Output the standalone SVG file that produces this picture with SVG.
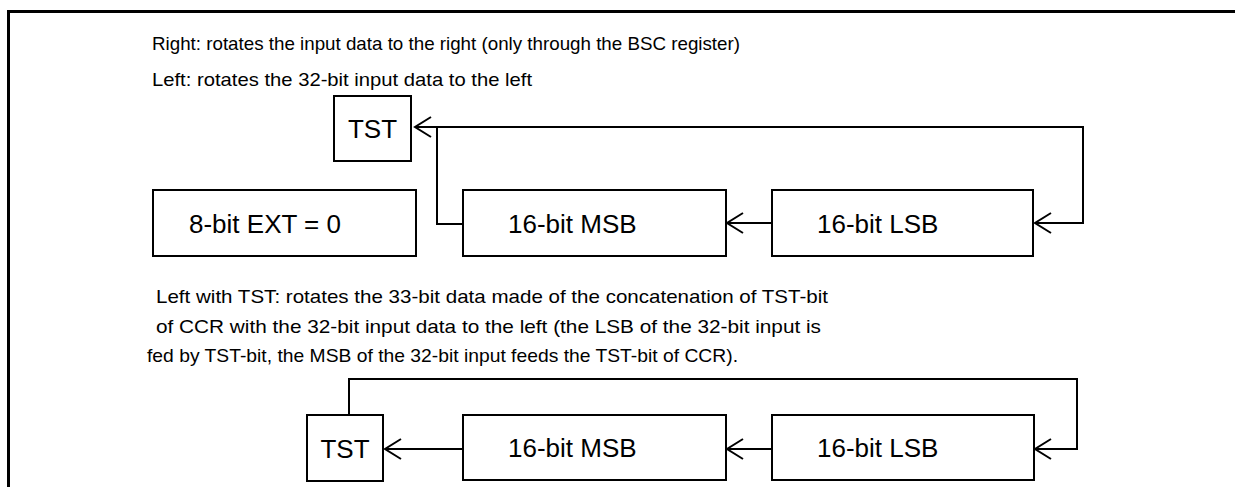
<svg xmlns="http://www.w3.org/2000/svg" width="1235" height="487" viewBox="0 0 1235 487">
<style>
.box{fill:#fff;stroke:#000;stroke-width:2}
.lbl{font-family:"Liberation Sans",Arial,sans-serif;font-size:26px;fill:#000}
.desc{font-family:"Liberation Sans",Arial,sans-serif;font-size:19px;fill:#000}
.wire{fill:none;stroke:#000;stroke-width:2}
</style>
<defs>
<marker id="arr" viewBox="-20 -12 24 24" markerWidth="24" markerHeight="24" refX="0" refY="0" orient="auto" markerUnits="userSpaceOnUse">
<path d="M-16,-10 L0,0 L-16,10" fill="none" stroke="#000" stroke-width="2"/>
</marker>
</defs>
<rect width="1235" height="487" fill="#fff"/>
<path d="M8.5,487 V11.5 H1235" fill="none" stroke="#000" stroke-width="3"/>
<g id="texts">
<text class="desc" x="152" y="50" textLength="588" lengthAdjust="spacingAndGlyphs">Right: rotates the input data to the right (only through the BSC register)</text>
<text class="desc" x="152" y="86" textLength="380" lengthAdjust="spacingAndGlyphs">Left: rotates the 32-bit input data to the left</text>
<text class="desc" x="156" y="303" textLength="672" lengthAdjust="spacingAndGlyphs">Left with TST: rotates the 33-bit data made of the concatenation of TST-bit</text>
<text class="desc" x="156" y="333" textLength="665" lengthAdjust="spacingAndGlyphs">of CCR with the 32-bit input data to the left (the LSB of the 32-bit input is</text>
<text class="desc" x="147" y="362" textLength="591" lengthAdjust="spacingAndGlyphs">fed by TST-bit, the MSB of the 32-bit input feeds the TST-bit of CCR).</text>
</g>
<g id="tst1"><rect class="box" x="334" y="96" width="77" height="65"/><text class="lbl" x="372.5" y="138" text-anchor="middle">TST</text></g>
<g id="ext"><rect class="box" x="153" y="190" width="263" height="66"/><text class="lbl" x="189" y="232.5">8-bit EXT = 0</text></g>
<g id="msb1"><rect class="box" x="463" y="190" width="263" height="66"/><text class="lbl" x="508" y="232.5">16-bit MSB</text></g>
<g id="lsb1"><rect class="box" x="772" y="190" width="261" height="66"/><text class="lbl" x="817" y="232.5">16-bit LSB</text></g>
<g id="tst2"><rect class="box" x="307" y="415" width="76" height="66"/><text class="lbl" x="345" y="457.5" text-anchor="middle">TST</text></g>
<g id="msb2"><rect class="box" x="463" y="415" width="263" height="65"/><text class="lbl" x="508" y="457">16-bit MSB</text></g>
<g id="lsb2"><rect class="box" x="772" y="415" width="262" height="65"/><text class="lbl" x="817" y="457">16-bit LSB</text></g>
<g id="connectors">
<path class="wire" d="M772,223 H727" marker-end="url(#arr)"/>
<path class="wire" d="M463,224 H437 V127 H1083 V223 H1035" marker-end="url(#arr)"/>
<path class="wire" d="M437,127 H415" marker-end="url(#arr)"/>
<path class="wire" d="M463,449 H385" marker-end="url(#arr)"/>
<path class="wire" d="M772,449 H727" marker-end="url(#arr)"/>
<path class="wire" d="M349,415 V379 H1077 V449 H1035" marker-end="url(#arr)"/>
</g>
</svg>
